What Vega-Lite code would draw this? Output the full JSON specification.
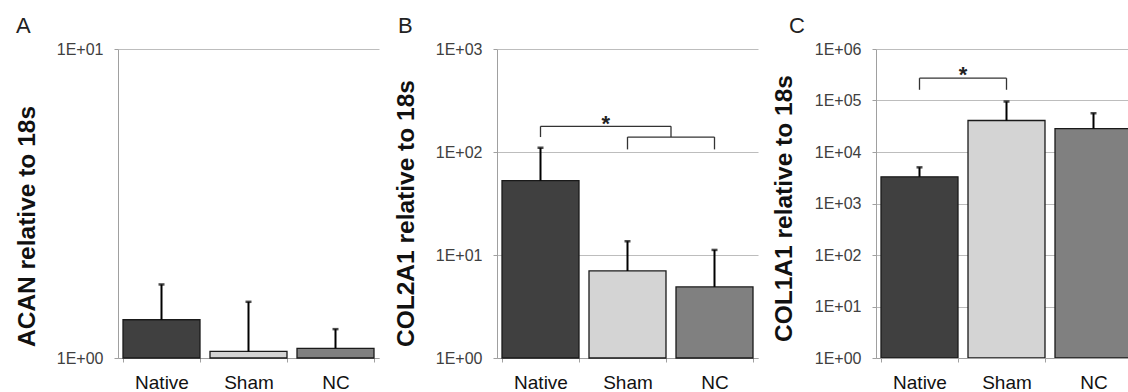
{
  "$schema": "https://vega.github.io/schema/vega-lite/v6.json",
  "padding": {"left": 14, "top": 15, "right": 0, "bottom": 0},
  "autosize": {"type": "pad"},
  "background": "white",
  "bounds": "flush",
  "spacing": 118,
  "datasets": {
    "bars": [
      {"panel": "A", "group": "Native", "value": 1.33, "upper": 1.73},
      {"panel": "A", "group": "Sham", "value": 1.05, "upper": 1.52},
      {"panel": "A", "group": "NC", "value": 1.075, "upper": 1.24},
      {"panel": "B", "group": "Native", "value": 52.8, "upper": 110},
      {"panel": "B", "group": "Sham", "value": 7.0, "upper": 13.6},
      {"panel": "B", "group": "NC", "value": 4.9, "upper": 11.2},
      {"panel": "C", "group": "Native", "value": 3300, "upper": 5040},
      {"panel": "C", "group": "Sham", "value": 40900, "upper": 95600},
      {"panel": "C", "group": "NC", "value": 28500, "upper": 56600}
    ],
    "brackets": [
      {"panel": "B", "bx": 0.5, "bx2": 2.0, "by": 177.5, "by2": 177.5},
      {"panel": "B", "bx": 0.5, "bx2": 0.5, "by": 139.7, "by2": 177.5},
      {"panel": "B", "bx": 2.0, "bx2": 2.0, "by": 139.7, "by2": 177.5},
      {"panel": "B", "bx": 1.5, "bx2": 2.5, "by": 139.7, "by2": 139.7},
      {"panel": "B", "bx": 1.5, "bx2": 1.5, "by": 106, "by2": 139.7},
      {"panel": "B", "bx": 2.5, "bx2": 2.5, "by": 106, "by2": 139.7},
      {"panel": "C", "bx": 0.5, "bx2": 1.5, "by": 271600, "by2": 271600},
      {"panel": "C", "bx": 0.5, "bx2": 0.5, "by": 161500, "by2": 271600},
      {"panel": "C", "bx": 1.5, "bx2": 1.5, "by": 161500, "by2": 271600}
    ],
    "stars": [
      {"panel": "B", "sx": 1.25, "sy": 159.4, "label": "*"},
      {"panel": "C", "sx": 1.0, "sy": 226000, "label": "*"}
    ]
  },
  "hconcat": [
    {
      "width": 261,
      "height": 309,
      "title": {"text": "A", "anchor": "start", "frame": "group", "dx": -102, "offset": 3},
      "data": {"name": "bars"},
      "transform": [{"filter": "datum.panel === 'A'"}],
      "encoding": {
        "x": {"field": "group", "type": "nominal", "sort": ["Native", "Sham", "NC"], "title": null,
              "scale": {"paddingInner": 0.115, "paddingOuter": 0.0575}},
        "y": {"field": "value", "type": "quantitative", "stack": null,
              "scale": {"type": "log", "domain": [1, 10], "nice": false},
              "axis": {"values": [1, 10], "title": "ACAN relative to 18s", "titleX": -84, "titleY": 297.5}}
      },
      "layer": [
        {"mark": {"type": "bar", "stroke": "#1a1a1a", "strokeWidth": 1.3},
         "encoding": {"y2": {"datum": 1},
           "color": {"field": "group", "type": "nominal", "legend": null,
            "scale": {"domain": ["Native", "Sham", "NC"], "range": ["#404040", "#d4d4d4", "#808080"]}}}},
        {"mark": {"type": "rule", "color": "#000", "strokeWidth": 2}, "encoding": {"y2": {"field": "upper"}}},
        {"mark": {"type": "tick", "color": "#000", "size": 6, "thickness": 2.5}, "encoding": {"y": {"field": "upper", "type": "quantitative"}}}
      ]
    },
    {
      "width": 261,
      "height": 309,
      "title": {"text": "B", "anchor": "start", "frame": "group", "dx": -99, "offset": 3},
      "resolve": {"scale": {"x": "independent"}},
      "layer": [
        {
          "data": {"name": "bars"},
          "transform": [{"filter": "datum.panel === 'B'"}],
          "encoding": {
            "x": {"field": "group", "type": "nominal", "sort": ["Native", "Sham", "NC"], "title": null,
                  "scale": {"paddingInner": 0.115, "paddingOuter": 0.0575}},
            "y": {"field": "value", "type": "quantitative", "stack": null,
                  "scale": {"type": "log", "domain": [1, 1000], "nice": false},
                  "axis": {"values": [1, 10, 100, 1000], "title": "COL2A1 relative to 18s", "titleX": -84, "titleY": 297.5}}
          },
          "layer": [
            {"mark": {"type": "bar", "stroke": "#1a1a1a", "strokeWidth": 1.3},
             "encoding": {"y2": {"datum": 1},
               "color": {"field": "group", "type": "nominal", "legend": null,
                "scale": {"domain": ["Native", "Sham", "NC"], "range": ["#404040", "#d4d4d4", "#808080"]}}}},
            {"mark": {"type": "rule", "color": "#000", "strokeWidth": 2}, "encoding": {"y2": {"field": "upper"}}},
            {"mark": {"type": "tick", "color": "#000", "size": 6, "thickness": 2.5}, "encoding": {"y": {"field": "upper", "type": "quantitative"}}}
          ]
        },
        {
          "layer": [
            {
              "data": {"name": "brackets"},
              "transform": [{"filter": "datum.panel === 'B'"}],
              "mark": {"type": "rule", "color": "#333", "strokeWidth": 1.3},
              "encoding": {
                "x": {"field": "bx", "type": "quantitative", "scale": {"domain": [0, 3], "nice": false, "zero": false}, "axis": null},
                "x2": {"field": "bx2"},
                "y": {"field": "by", "type": "quantitative"},
                "y2": {"field": "by2"}
              }
            },
            {
              "data": {"name": "stars"},
              "transform": [{"filter": "datum.panel === 'B'"}],
              "mark": {"type": "text", "fontSize": 22, "fontWeight": "bold", "baseline": "alphabetic", "font": "Liberation Sans", "color": "#222"},
              "encoding": {
                "x": {"field": "sx", "type": "quantitative", "axis": null},
                "y": {"field": "sy", "type": "quantitative"},
                "text": {"field": "label"}
              }
            }
          ]
        }
      ]
    },
    {
      "width": 253,
      "height": 309,
      "title": {"text": "C", "anchor": "start", "frame": "group", "dx": -87, "offset": 3},
      "resolve": {"scale": {"x": "independent"}},
      "layer": [
        {
          "data": {"name": "bars"},
          "transform": [{"filter": "datum.panel === 'C'"}],
          "encoding": {
            "x": {"field": "group", "type": "nominal", "sort": ["Native", "Sham", "NC"], "title": null,
                  "scale": {"paddingInner": 0.115, "paddingOuter": 0.0575, "range": [0, 261]}},
            "y": {"field": "value", "type": "quantitative", "stack": null,
                  "scale": {"type": "log", "domain": [1, 1000000], "nice": false},
                  "axis": {"values": [1, 10, 100, 1000, 10000, 100000, 1000000], "title": "COL1A1 relative to 18s", "titleX": -85, "titleY": 292.5}}
          },
          "layer": [
            {"mark": {"type": "bar", "stroke": "#1a1a1a", "strokeWidth": 1.3, "clip": true},
             "encoding": {"y2": {"datum": 1},
               "color": {"field": "group", "type": "nominal", "legend": null,
                "scale": {"domain": ["Native", "Sham", "NC"], "range": ["#404040", "#d4d4d4", "#808080"]}}}},
            {"mark": {"type": "rule", "color": "#000", "strokeWidth": 2}, "encoding": {"y2": {"field": "upper"}}},
            {"mark": {"type": "tick", "color": "#000", "size": 6, "thickness": 2.5}, "encoding": {"y": {"field": "upper", "type": "quantitative"}}}
          ]
        },
        {
          "layer": [
            {
              "data": {"name": "brackets"},
              "transform": [{"filter": "datum.panel === 'C'"}],
              "mark": {"type": "rule", "color": "#333", "strokeWidth": 1.3},
              "encoding": {
                "x": {"field": "bx", "type": "quantitative", "scale": {"domain": [0, 3], "range": [0, 261], "nice": false, "zero": false}, "axis": null},
                "x2": {"field": "bx2"},
                "y": {"field": "by", "type": "quantitative"},
                "y2": {"field": "by2"}
              }
            },
            {
              "data": {"name": "stars"},
              "transform": [{"filter": "datum.panel === 'C'"}],
              "mark": {"type": "text", "fontSize": 22, "fontWeight": "bold", "baseline": "alphabetic", "font": "Liberation Sans", "color": "#222"},
              "encoding": {
                "x": {"field": "sx", "type": "quantitative", "axis": null},
                "y": {"field": "sy", "type": "quantitative"},
                "text": {"field": "label"}
              }
            }
          ]
        }
      ]
    }
  ],
  "config": {
    "font": "Liberation Sans",
    "view": {"stroke": null},
    "title": {"fontSize": 22, "fontWeight": "normal", "color": "#222", "font": "Liberation Sans", "baseline": "alphabetic"},
    "axisX": {
      "domainColor": "#a0a0a0", "tickColor": "#a0a0a0", "tickSize": 4, "tickBand": "extent",
      "labelAngle": 0, "labelFontSize": 19, "labelColor": "#111", "labelPadding": 11, "grid": false,
      "labelFont": "Liberation Sans"
    },
    "axisY": {
      "domainColor": "#a0a0a0", "tickColor": "#a0a0a0", "tickSize": 4,
      "grid": true, "gridColor": "#bdbdbd", "gridWidth": 1,
      "labelFontSize": 16, "labelColor": "#404040", "labelPadding": 11, "labelFont": "Liberation Sans",
      "labelExpr": "'1E+0' + round(log(datum.value) / LN10)",
      "titleFontSize": 24.5, "titleFontWeight": "bold", "titleColor": "#111", "titleFont": "Liberation Sans",
      "titleAlign": "left", "titleBaseline": "alphabetic", "titleAngle": -90
    }
  }
}
